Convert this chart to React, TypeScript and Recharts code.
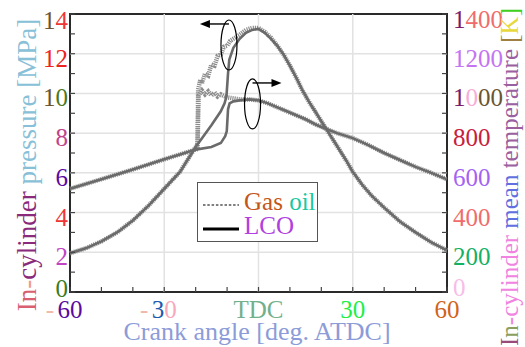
import { LineChart, Line, XAxis, YAxis, ReferenceLine, ReferenceArea, ReferenceDot } from 'recharts'

// crank angle [deg ATDC] and in-cylinder pressure [MPa]
const lcoPressureAngle = [-60, -55, -50, -45, -40, -35, -30, -25, -20, -15, -12, -10.8, -10.2, -9.7, -9.3, -8, -6, -4, -2, 0, 2, 4, 6, 8, 10, 12, 14, 16, 18, 20, 22, 25, 28, 30, 33, 36, 40, 45, 50, 55, 60]
const lcoPressure = [1.95, 2.2, 2.55, 3.0, 3.6, 4.35, 5.2, 6.05, 7.3, 8.4, 9.1, 9.5, 9.85, 11.0, 11.7, 12.3, 12.75, 13.05, 13.2, 13.25, 13.05, 12.75, 12.4, 11.95, 11.4, 10.8, 10.15, 9.6, 9.1, 8.6, 8.1, 7.35, 6.6, 6.05, 5.4, 4.85, 4.25, 3.55, 3.0, 2.5, 2.1]

const gasPressureAngle = [-60, -55, -50, -45, -40, -35, -30, -25, -20, -19.4, -19.2, -18.5, -18, -17, -16, -15, -14, -13, -12, -11, -10, -9, -8, -6, -4, -2, 0, 2, 4, 6, 8, 10, 12, 14, 16, 18, 20, 22, 25, 28, 30, 33, 36, 40, 45, 50, 55, 60]
const gasPressure = [1.95, 2.2, 2.55, 3.0, 3.6, 4.35, 5.2, 6.05, 7.3, 7.45, 10.2, 10.7, 10.5, 11.0, 10.9, 11.45, 11.4, 11.9, 11.95, 12.35, 12.4, 12.65, 12.75, 12.95, 13.2, 13.3, 13.3, 13.1, 12.8, 12.4, 11.95, 11.4, 10.8, 10.15, 9.6, 9.1, 8.6, 8.1, 7.35, 6.6, 6.05, 5.4, 4.85, 4.25, 3.55, 3.0, 2.5, 2.1]

// in-cylinder mean temperature [K]
const lcoTempAngle = [-60, -50, -40, -30, -25, -20, -15, -12, -10.6, -10.1, -9.7, -9.2, -8, -6, -3, 0, 3, 6, 9, 12, 15, 18, 21, 25, 30, 35, 40, 45, 50, 55, 60]
const lcoTemp = [520, 568, 617, 668, 693, 717, 730, 750, 785, 810, 920, 950, 960, 965, 970, 965, 950, 930, 910, 890, 870, 845, 825, 800, 775, 740, 700, 665, 630, 600, 567]

const gasTempAngle = [-60, -50, -40, -30, -25, -20, -19.4, -19.1, -18, -17, -16, -15, -14, -13, -12, -10, -8, -6, -3, 0, 3, 6, 9, 12, 15, 18, 21, 25, 30, 35, 40, 45, 50, 55, 60]
const gasTemp = [520, 568, 617, 668, 693, 717, 720, 990, 1015, 995, 1010, 990, 1005, 985, 995, 980, 975, 970, 970, 965, 950, 930, 910, 890, 870, 845, 825, 800, 775, 740, 700, 665, 630, 600, 567]

const xTicks = [-60, -50, -40, -30, -20, -10, 0, 10, 20, 30, 40, 50, 60]
const pressureTicks = [0, 1, 2, 3, 4, 5, 6, 7, 8, 9, 10, 11, 12, 13, 14]
const tempTicks = [0, 100, 200, 300, 400, 500, 600, 700, 800, 900, 1000, 1100, 1200, 1300, 1400]

// coloured pieces of each tick label (the minus sign is drawn on its own)
const xTickLabels: Record<number, [string, string][]> = {
  [-60]: [['60', '#5a0aa0']],
  [-30]: [['3', '#1a5ab0'], ['0', '#f8a8bc']],
  0: [['TDC', '#72b08c']],
  30: [['30', '#22ee44']],
  60: [['60', '#d0631a']],
}
const pressureTickLabels: Record<number, [string, string][]> = {
  0: [['0', '#3a7d1a']],
  2: [['2', '#c044c4']],
  4: [['4', '#ee3636']],
  6: [['6', '#5a0aa0']],
  8: [['8', '#c0448c']],
  10: [['1', '#6b5530'], ['0', '#4a7a20']],
  12: [['12', '#ee2222']],
  14: [['1', '#6b5530'], ['4', '#ee3636']],
}
const tempTickLabels: Record<number, [string, string][]> = {
  0: [['0', '#f8bce8']],
  200: [['200', '#14b064']],
  400: [['400', '#f06c6c']],
  600: [['600', '#a462f2']],
  800: [['800', '#c8203c']],
  1000: [['1', '#7a1a6a'], ['0', '#f8acd8'], ['00', '#6b5530']],
  1200: [['1200', '#c474f2']],
  1400: [['1', '#7a1a6a'], ['400', '#f06c6c']],
}

const toPoints = (a: number[], v: number[]) => a.map((angle, i) => ({ angle, value: v[i] }))
const lcoPData = toPoints(lcoPressureAngle, lcoPressure)
const gasPData = toPoints(gasPressureAngle, gasPressure)
const lcoTData = toPoints(lcoTempAngle, lcoTemp)
const gasTData = toPoints(gasTempAngle, gasTemp)

const FONT = "'Times New Roman', Tinos, 'Liberation Serif', 'DejaVu Serif', serif"

function Pieces({ parts }: { parts: [string, string][] }) {
  return <>{parts.map(([t, c], i) => <tspan key={i} fill={c}>{t}</tspan>)}</>
}

function XTick(props: any) {
  const { x, y, payload } = props
  const v = payload.value
  const parts = xTickLabels[v]
  return (
    <g>
      <line x1={x} x2={x} y1={y} y2={y - 5} stroke="#444" strokeWidth={1.2} />
      {parts && (
        <text x={x} y={y + 17} textAnchor="middle" dominantBaseline="central" fontSize={25} fontFamily={FONT}>
          <Pieces parts={parts} />
        </text>
      )}
      {parts && v < 0 && (
        <text x={x - 16} y={y + 17} textAnchor="end" dominantBaseline="central" fontSize={25} fontFamily={FONT} fill="#f2b8a8">
          -
        </text>
      )}
    </g>
  )
}

function PressureTick(props: any) {
  const { x, y, payload } = props
  const parts = pressureTickLabels[payload.value]
  const dy = payload.value === 0 ? -4 : payload.value === 14 ? 6 : 4
  return (
    <g>
      <line x1={x + 2} x2={x + 7} y1={y} y2={y} stroke="#444" strokeWidth={1.2} />
      {parts && (
        <text x={x} y={y + dy} textAnchor="end" dominantBaseline="central" fontSize={25} fontFamily={FONT}>
          <Pieces parts={parts} />
        </text>
      )}
    </g>
  )
}

function TempTick(props: any) {
  const { x, y, payload } = props
  const parts = tempTickLabels[payload.value]
  const dy = payload.value === 0 ? -5 : payload.value === 1400 ? 5 : 4
  return (
    <g>
      <line x1={x - 6} x2={x - 11} y1={y} y2={y} stroke="#444" strokeWidth={1.2} />
      {parts && (
        <text x={x} y={y + dy} textAnchor="start" dominantBaseline="central" fontSize={25} fontFamily={FONT}>
          <Pieces parts={parts} />
        </text>
      )}
    </g>
  )
}

// ellipse with an arrow pointing to the axis the curves belong to
function Marker(props: any) {
  const { cx, cy, dir } = props
  const ay = cy - 21
  const tip = cx + dir * 29
  return (
    <g>
      <ellipse cx={cx} cy={cy} rx={8} ry={25} fill="none" stroke="#000" strokeWidth={1.2} />
      <line x1={cx} x2={tip - dir * 8} y1={ay} y2={ay} stroke="#000" strokeWidth={1.4} />
      <polygon points={`${tip},${ay} ${tip - dir * 10},${ay - 4} ${tip - dir * 10},${ay + 4}`} fill="#000" />
    </g>
  )
}

export default function App() {
  return (
    <div style={{ position: 'absolute', left: 0, top: 0, width: 525, height: 347, background: '#fff' }}>
      <LineChart width={525} height={347} margin={{ top: 14, right: 8, bottom: 10, left: 8 }}>
        <XAxis
          dataKey="angle"
          type="number"
          domain={[-60, 60]}
          ticks={xTicks}
          interval={0}
          axisLine={false}
          tickLine={false}
          tickSize={0}
          tickMargin={0}
          height={45}
          tick={<XTick />}
          allowDuplicatedCategory={false}
        />
        <YAxis
          yAxisId="p"
          domain={[0, 14]}
          ticks={pressureTicks}
          interval={0}
          axisLine={false}
          tickLine={false}
          tickSize={0}
          tickMargin={2}
          width={62}
          tick={<PressureTick />}
        />
        <YAxis
          yAxisId="t"
          orientation="right"
          domain={[0, 1400]}
          ticks={tempTicks}
          interval={0}
          axisLine={false}
          tickLine={false}
          tickSize={0}
          tickMargin={6}
          width={70}
          tick={<TempTick />}
        />
        {[2, 4, 6, 8, 10, 12].map((v) => (
          <ReferenceLine key={'h' + v} yAxisId="p" y={v} stroke="#e2e2e2" strokeWidth={1.5} />
        ))}
        {[-30, 0, 30].map((v) => (
          <ReferenceLine key={'v' + v} yAxisId="p" x={v} stroke="#e2e2e2" strokeWidth={1.5} />
        ))}
        <Line data={gasPData} yAxisId="p" dataKey="value" type="linear" stroke="#8c8c8c" strokeWidth={4.5} strokeDasharray="1.2 0.9" dot={false} isAnimationActive={false} />
        <Line data={gasTData} yAxisId="t" dataKey="value" type="linear" stroke="#8c8c8c" strokeWidth={4.5} strokeDasharray="1.2 0.9" dot={false} isAnimationActive={false} />
        <Line data={lcoPData} yAxisId="p" dataKey="value" type="linear" stroke="#6a6a6a" strokeWidth={2.6} dot={false} isAnimationActive={false} />
        <Line data={lcoTData} yAxisId="t" dataKey="value" type="linear" stroke="#6a6a6a" strokeWidth={2.6} dot={false} isAnimationActive={false} />
        <ReferenceDot yAxisId="p" x={-9.4} y={12.44} ifOverflow="visible" shape={(p: any) => <Marker {...p} dir={-1} />} />
        <ReferenceDot yAxisId="p" x={-1.9} y={9.47} ifOverflow="visible" shape={(p: any) => <Marker {...p} dir={1} />} />
        <ReferenceArea yAxisId="p" x1={-60} x2={60} y1={0} y2={14} fill="none" stroke="#2a2a2a" strokeWidth={2} ifOverflow="visible" />
      </LineChart>

      <svg width={525} height={347} style={{ position: 'absolute', left: 0, top: 0, pointerEvents: 'none' }}>
        <text transform="translate(27,165) rotate(-90)" textAnchor="middle" dominantBaseline="central" fontSize={27} fontFamily={FONT}>
          <tspan fill="#d86070">In</tspan>
          <tspan fill="#f09a88">-</tspan>
          <tspan fill="#8a2a7a">cylinder</tspan>
          <tspan fill="#88c0d8"> pressure [MPa]</tspan>
        </text>
        <text transform="translate(509,177) rotate(-90)" textAnchor="middle" dominantBaseline="central" fontSize={25} fontFamily={FONT}>
          <tspan fill="#9a4a7a">I</tspan>
          <tspan fill="#8aa060">n</tspan>
          <tspan fill="#f084e0">-cylinder </tspan>
          <tspan fill="#6070e0">mean </tspan>
          <tspan fill="#9a60a0">temperature </tspan>
          <tspan fill="#a08040">[</tspan>
          <tspan fill="#e8d840">K</tspan>
          <tspan fill="#40d020">]</tspan>
        </text>
        <text x={257} y={331} textAnchor="middle" dominantBaseline="central" fontSize={26} fontFamily={FONT} fill="#8c9cd8">
          Crank angle [deg. ATDC]
        </text>
      </svg>

      <div
        style={{
          position: 'absolute',
          left: 197,
          top: 182,
          width: 119,
          height: 58,
          border: '1.5px solid #555',
          background: '#fff',
          fontFamily: FONT,
          fontSize: 25,
          lineHeight: '25px',
        }}
      >
        <div style={{ position: 'absolute', left: 4, top: 6, display: 'flex', alignItems: 'center' }}>
          <svg width={38} height={20}>
            <line x1={1} x2={37} y1={13} y2={13} stroke="#000" strokeWidth={1.2} strokeDasharray="2.5 1.8" />
          </svg>
          <span style={{ marginLeft: 4 }}>
            <span style={{ color: '#c4561a' }}>Gas</span> <span style={{ color: '#1ac8a0' }}>oil</span>
          </span>
        </div>
        <div style={{ position: 'absolute', left: 4, top: 30, display: 'flex', alignItems: 'center' }}>
          <svg width={38} height={20}>
            <line x1={1} x2={37} y1={13} y2={13} stroke="#000" strokeWidth={2.8} />
          </svg>
          <span style={{ marginLeft: 4, color: '#b040e0' }}>LCO</span>
        </div>
      </div>
    </div>
  )
}
